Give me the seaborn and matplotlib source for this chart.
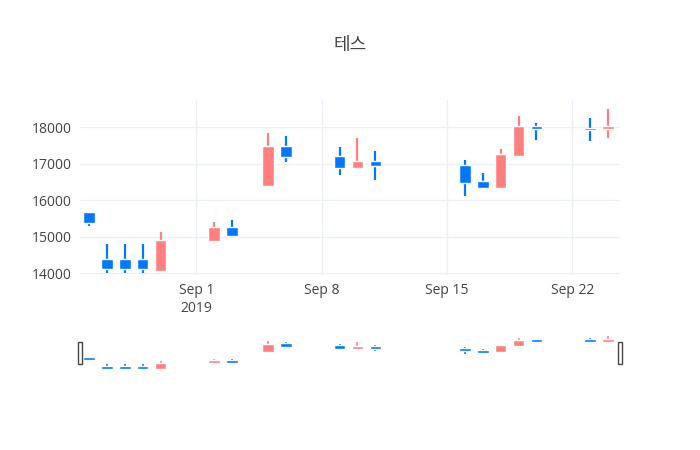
import matplotlib
matplotlib.use("Agg")
import matplotlib.pyplot as plt
import matplotlib.dates as mdates
import numpy as np
import pandas as pd
import seaborn as sns

dates = ["2019-08-26", "2019-08-27", "2019-08-28", "2019-08-29", "2019-08-30",
         "2019-09-02", "2019-09-03", "2019-09-05", "2019-09-06",
         "2019-09-09", "2019-09-10", "2019-09-11",
         "2019-09-16", "2019-09-17", "2019-09-18", "2019-09-19", "2019-09-20",
         "2019-09-23", "2019-09-24"]
open_ = [15680, 14400, 14400, 14400, 14060, 14870, 15270, 16380, 17470,
         17220, 16880, 17070, 16970, 16520, 16320, 17220, 18020, 17970, 17950]
close = [15380, 14120, 14120, 14120, 14900, 15270, 15020, 17470, 17180,
         16880, 17070, 16930, 16480, 16320, 17270, 18020, 17950, 17930, 18020]
high = [15680, 14790, 14790, 14790, 15140, 15390, 15450, 17850, 17760,
        17450, 17700, 17350, 17100, 16750, 17400, 18310, 18100, 18250, 18490]
low = [15280, 14000, 14000, 14000, 14050, 14850, 15000, 16380, 17050,
       16700, 16850, 16550, 16100, 16300, 16320, 17220, 17650, 17610, 17700]

df = pd.DataFrame({"date": pd.to_datetime(dates), "open": open_, "close": close,
                   "high": high, "low": low})
df["x"] = mdates.date2num(df["date"])
up_col, down_col = "#ff7f7f", "#0077ff"
df["color"] = np.where(df["close"] >= df["open"], up_col, down_col)

sns.set_theme(style="white")
plt.rcParams["font.family"] = ["Open Sans", "Noto Sans CJK KR", "DejaVu Sans"]

fig = plt.figure(figsize=(7, 4.5), dpi=100)
ax = fig.add_axes([80 / 700, 1 - 275 / 450, 540 / 700, 175 / 450])
sl = fig.add_axes([80 / 700, 1 - 370 / 450, 540 / 700, 34 / 450])

xmin = mdates.date2num(pd.Timestamp("2019-08-25 12:00"))
xmax = mdates.date2num(pd.Timestamp("2019-09-24 16:00"))


def candles(a, lw, width, min_h):
    a.vlines(df["x"], df["low"], df["high"], colors=df["color"], lw=lw, zorder=2)
    bottoms = np.minimum(df["open"], df["close"])
    heights = np.abs(df["close"] - df["open"])
    grow = np.maximum(min_h - heights, 0)
    a.bar(df["x"], heights + grow, bottom=bottoms - grow / 2, width=width,
          color=df["color"], zorder=3)


candles(ax, 1.6, 0.65, 40)
ax.set_xlim(xmin, xmax)
ax.set_ylim(13950, 18740)
ax.set_yticks([14000, 15000, 16000, 17000, 18000])
ax.xaxis.set_major_locator(mdates.DayLocator(bymonthday=[1, 8, 15, 22]))
ax.xaxis.set_major_formatter(mdates.DateFormatter("%b %-d"))
ax.set_xticks(ax.get_xticks())
labels = [t.get_text() for t in ax.get_xticklabels()]
ax.set_xticklabels([l + "\n2019" if l == "Sep 1" else l for l in labels])
ax.grid(True, color="#ebf0f8", lw=1)
ax.set_axisbelow(True)
for s in ax.spines.values():
    s.set_visible(False)
ax.tick_params(length=0, labelsize=10, colors="#444444", pad=6)
ax.set_title("테스", fontsize=13, color="#444444", pad=36,
             family=["Noto Sans CJK KR", "DejaVu Sans"])

candles(sl, 1.2, 0.65, 450)
sl.set_xlim(xmin, xmax)
sl.set_ylim(13950, 18550)
sl.set_xticks([])
sl.set_yticks([])
for s in sl.spines.values():
    s.set_visible(False)
for hx in [xmin, xmax]:
    sl.add_patch(plt.Rectangle((hx - 0.12, 14800), 0.24, 3000, facecolor="white",
                               edgecolor="#444444", lw=1, clip_on=False, zorder=5))

fig.savefig("out.png", dpi=100)
